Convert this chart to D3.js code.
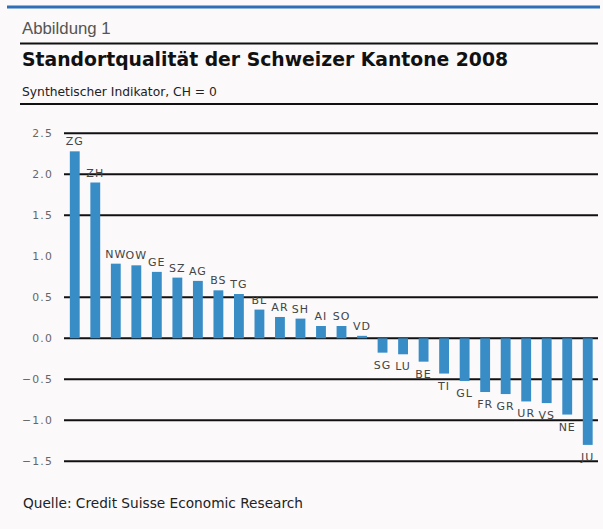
<!DOCTYPE html>
<html>
<head>
<meta charset="utf-8">
<script src="https://cdn.jsdelivr.net/npm/d3@7"></script>
<style>
  body { margin: 0; background: #fbf9fa; }
  svg { display: block; }
</style>
</head>
<body>
<svg id="chart" width="603" height="529"></svg>
<script>
// Kantone, sortiert nach Indikator
let cantons = ["ZG","ZH","NW","OW","GE","SZ","AG","BS","TG","BL","AR","SH","AI",
               "SO","VD","SG","LU","BE","TI","GL","FR","GR","UR","VS","NE","JU"];
let values = [2.28, 1.90, 0.91, 0.89, 0.81, 0.74, 0.70, 0.585, 0.54, 0.35, 0.26, 0.24, 0.15,
              0.15, 0.03, -0.175, -0.195, -0.285, -0.43, -0.52, -0.655, -0.68, -0.77, -0.79, -0.93, -1.30];
let yTicks = [2.5, 2.0, 1.5, 1.0, 0.5, 0.0, -0.5, -1.0, -1.5];
let gridTicks = [2.5, 2.0, 1.5, 0.5, 0.0, -0.5, -1.0, -1.5]; // 1.0 line is missing in the original

let svg = d3.select("#chart");
let font = "'DejaVu Sans', Verdana, sans-serif";

// header
svg.append("line")
    .attr("x1", 7).attr("x2", 600).attr("y1", 7).attr("y2", 7)
    .style("stroke", "#2f6fb8").style("stroke-width", 3);

svg.append("text")
    .attr("x", 22).attr("y", 34)
    .style("font-family", "'Liberation Sans', Arial, sans-serif")
    .style("font-size", "16.8px")
    .style("fill", "#555")
    .text("Abbildung 1");

svg.append("line")
    .attr("x1", 20).attr("x2", 598).attr("y1", 43.5).attr("y2", 43.5)
    .style("stroke", "#111").style("stroke-width", 2);

svg.append("text")
    .attr("x", 22).attr("y", 66)
    .style("font-family", font)
    .style("font-weight", "bold")
    .style("font-size", "18.8px")
    .style("fill", "#111")
    .text("Standortqualität der Schweizer Kantone 2008");

svg.append("text")
    .attr("x", 22).attr("y", 96)
    .style("font-family", font)
    .style("font-size", "12.3px")
    .style("fill", "#222")
    .text("Synthetischer Indikator, CH = 0");

svg.append("line")
    .attr("x1", 20).attr("x2", 598).attr("y1", 104).attr("y2", 104)
    .style("stroke", "#111").style("stroke-width", 2);

// scales
let x = d3.scaleBand()
    .domain(cantons)
    .range([64.5, 598])
    .paddingInner(0.52)
    .paddingOuter(0.26);

let y = d3.scaleLinear()
    .domain([-1.5, 2.5])
    .range([461.3, 133.3]);

// grid
svg.append("g").selectAll("line")
    .data(gridTicks)
    .enter().append("line")
    .attr("x1", 64).attr("x2", 598)
    .attr("y1", d => y(d)).attr("y2", d => y(d))
    .style("stroke", "#111").style("stroke-width", 2);

// y axis labels
let yAxis = d3.axisLeft(y)
    .tickValues(yTicks)
    .tickFormat(d3.format(".1f"))
    .tickSize(0)
    .tickPadding(0);

let axisG = svg.append("g")
    .attr("transform", "translate(53,0)")
    .call(yAxis);
axisG.select(".domain").remove();
axisG.selectAll("text")
    .style("font-family", font)
    .style("font-size", "10.8px")
    .style("letter-spacing", "1.2px")
    .style("fill", "#666");

// bars
svg.append("g").selectAll("rect")
    .data(values)
    .enter().append("rect")
    .attr("x", (d, i) => x(cantons[i]))
    .attr("width", x.bandwidth())
    .attr("y", d => y(Math.max(0, d)))
    .attr("height", d => Math.abs(y(d) - y(0)))
    .style("fill", "#398dc7");

// bar labels
svg.append("g").selectAll("text")
    .data(values)
    .enter().append("text")
    .attr("x", (d, i) => x(cantons[i]) + x.bandwidth() / 2)
    .attr("y", d => d >= 0 ? y(d) - 6 : y(d) + 16)
    .attr("text-anchor", "middle")
    .style("font-family", font)
    .style("font-size", "11px")
    .style("letter-spacing", "1px")
    .style("fill", "#444")
    .text((d, i) => cantons[i]);

// source
svg.append("text")
    .attr("x", 23).attr("y", 508)
    .style("font-family", font)
    .style("font-size", "13.7px")
    .style("fill", "#222")
    .text("Quelle: Credit Suisse Economic Research");
</script>
</body>
</html>
